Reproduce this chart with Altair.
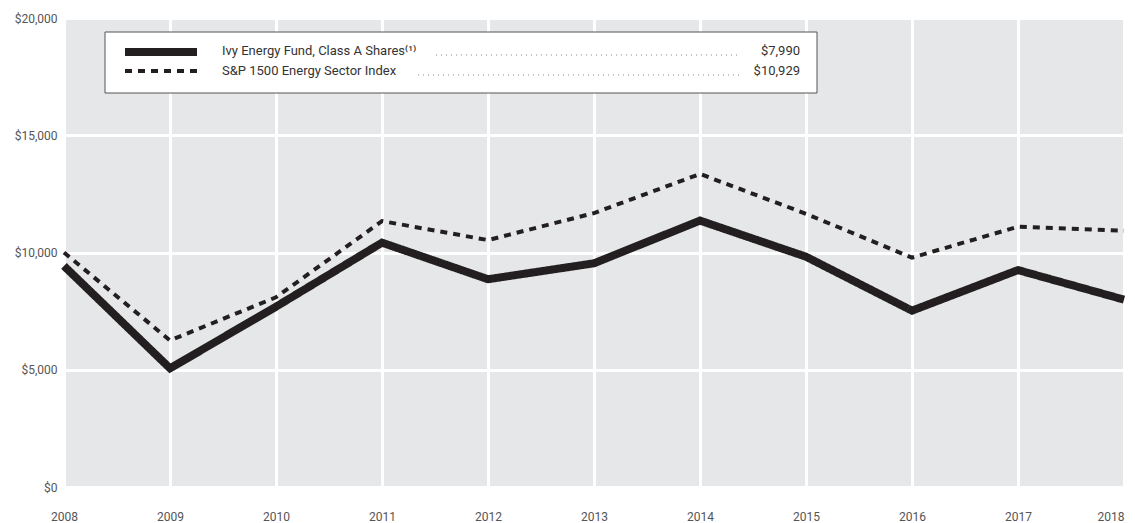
import altair as alt
import pandas as pd

years = [2008, 2009, 2010, 2011, 2012, 2013, 2014, 2015, 2016, 2017, 2018]
ivy_values = [9425, 5060, 7690, 10420, 8860, 9540, 11360, 9820, 7520, 9250, 7990]
sp_values = [10000, 6250, 8090, 11340, 10530, 11680, 13350, 11650, 9780, 11100, 10929]
series_names = ["Ivy Energy Fund, Class A Shares\u207d\u00b9\u207e", "S&P 1500 Energy Sector Index"]
ending_labels = ["$7,990", "$10,929"]
y_ticks = [0, 5000, 10000, 15000, 20000]

FONT = "Roboto"

rows = []
for y, v in zip(years, ivy_values):
    rows.append({"year": y, "value": v, "series": series_names[0]})
for y, v in zip(years, sp_values):
    rows.append({"year": y, "value": v, "series": series_names[1]})
df = pd.DataFrame(rows)

last_year = years[-1]
x_enc = alt.X("year:Q", scale=alt.Scale(domain=[years[0], last_year], nice=False, zero=False),
              axis=alt.Axis(values=years, format="d", title=None, grid=True, gridColor="white",
                            gridWidth=3, ticks=False, domain=False, labelPadding=24,
                            labelFontSize=12, labelColor="#555", labelFont=FONT, labelFlush=False,
                            labelAlign=alt.ExprRef(expr=f"datum.value == {last_year} ? 'right' : 'center'")))
y_enc = alt.Y("value:Q", scale=alt.Scale(domain=[0, 20000], nice=False),
              axis=alt.Axis(values=y_ticks, format="$,.0f", title=None, grid=True, gridColor="white",
                            gridWidth=3, ticks=False, domain=False, labelPadding=7,
                            labelFontSize=12, labelColor="#555", labelFont=FONT))

lines = alt.Chart(df).mark_line(strokeCap="butt", strokeJoin="miter").encode(
    x=x_enc, y=y_enc,
    color=alt.Color("series:N", scale=alt.Scale(domain=series_names, range=["#231f20", "#231f20"]), legend=None),
    strokeDash=alt.StrokeDash("series:N", scale=alt.Scale(domain=series_names, range=[[1, 0], [7, 6]]), legend=None),
    strokeWidth=alt.StrokeWidth("series:N", scale=alt.Scale(domain=series_names, range=[8, 4]), legend=None),
)

one = pd.DataFrame({"a": [0]})
legend_box = alt.Chart(one).mark_rect(fill="white", stroke="#555", strokeWidth=1).encode(
    x=alt.value(41), x2=alt.value(753), y=alt.value(14), y2=alt.value(75))

solid_sample = alt.Chart(one).mark_rule(color="#231f20", strokeWidth=8, strokeCap="butt").encode(
    x=alt.value(61), x2=alt.value(133), y=alt.value(34))
dash_sample = alt.Chart(one).mark_rule(color="#231f20", strokeWidth=4, strokeDash=[7, 6], strokeCap="butt").encode(
    x=alt.value(61), x2=alt.value(133), y=alt.value(53))

TXT = dict(baseline="middle", font=FONT, fontSize=13, color="#333")
name1 = alt.Chart(one).mark_text(text=series_names[0], align="left", **TXT).encode(x=alt.value(158), y=alt.value(33))
name2 = alt.Chart(one).mark_text(text=series_names[1], align="left", **TXT).encode(x=alt.value(158), y=alt.value(53))
val1 = alt.Chart(one).mark_text(text=ending_labels[0], align="right", **TXT).encode(x=alt.value(736), y=alt.value(33))
val2 = alt.Chart(one).mark_text(text=ending_labels[1], align="right", **TXT).encode(x=alt.value(736), y=alt.value(53))
dots1 = alt.Chart(one).mark_rule(color="#888", strokeWidth=1, strokeDash=[1, 4]).encode(
    x=alt.value(372), x2=alt.value(676), y=alt.value(37))
dots2 = alt.Chart(one).mark_rule(color="#888", strokeWidth=1, strokeDash=[1, 4]).encode(
    x=alt.value(354), x2=alt.value(676), y=alt.value(57))

chart = alt.layer(lines, legend_box, solid_sample, dash_sample, name1, name2, val1, val2, dots1, dots2).properties(
    width=1060, height=469,
    background="white",
    autosize=alt.AutoSizeParams(type="none"),
    padding={"left": 56, "top": 10, "right": 3, "bottom": 36},
).configure_view(fill="#e6e7e8", stroke=None)

chart.save("out.html", embed_options={"renderer": "svg", "actions": False})
